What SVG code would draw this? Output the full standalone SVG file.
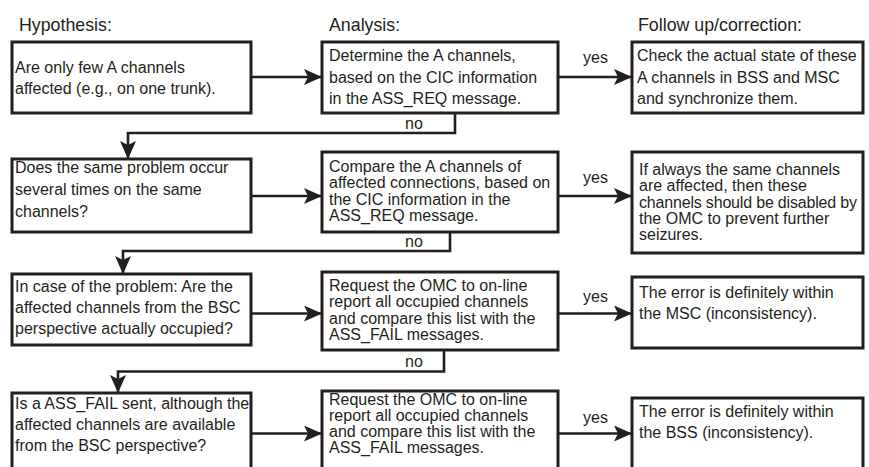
<svg xmlns="http://www.w3.org/2000/svg" width="869" height="467" viewBox="0 0 869 467">
<defs>
<style>
.bx{fill:#fff;stroke:#231f20;stroke-width:3}
.t{font-family:"Liberation Sans",Arial,sans-serif;font-size:16px;fill:#231f20}
.h{font-family:"Liberation Sans",Arial,sans-serif;font-size:17.8px;fill:#231f20}
.c{fill:none;stroke:#231f20;stroke-width:2.6;stroke-linejoin:miter}
.a{marker-end:url(#ah)}
</style>
<marker id="ah" markerUnits="userSpaceOnUse" viewBox="0 0 18 16" refX="17" refY="8" markerWidth="18" markerHeight="16" orient="auto">
<path d="M0,0 L18,8 L0,16 L4,8 Z" fill="#231f20"/>
</marker>
</defs>
<rect width="869" height="467" fill="#fff"/>
<g id="titles">
<text class="h" x="19" y="31">Hypothesis:</text>
<text class="h" x="329" y="31">Analysis:</text>
<text class="h" x="638" y="31">Follow up/correction:</text>
</g>
<g id="connectors">
<line class="c a" x1="251" y1="77" x2="321" y2="77"/>
<line class="c a" x1="558" y1="77" x2="631" y2="77"/>
<text class="t" x="583" y="63">yes</text>
<polyline class="c a" points="455,113 455,133 128,133 128,158"/>
<text class="t" x="405" y="129">no</text>
<line class="c a" x1="251" y1="196" x2="321" y2="196"/>
<line class="c a" x1="558" y1="196" x2="631" y2="196"/>
<text class="t" x="583" y="183">yes</text>
<polyline class="c a" points="450,232 450,251 123,251 123,273"/>
<text class="t" x="405" y="247">no</text>
<line class="c a" x1="251" y1="313.5" x2="321" y2="313.5"/>
<line class="c a" x1="558" y1="313.5" x2="631" y2="313.5"/>
<text class="t" x="583" y="302">yes</text>
<polyline class="c a" points="444,350 444,371.5 118,371.5 118,392"/>
<text class="t" x="405" y="367">no</text>
<line class="c a" x1="251" y1="433.5" x2="321" y2="433.5"/>
<line class="c a" x1="558" y1="433.5" x2="631" y2="433.5"/>
<text class="t" x="583" y="423">yes</text>
</g>
<g id="h1"><rect class="bx" x="12" y="42" width="239" height="71"/>
<text class="t" x="15" y="73">Are only few A channels</text>
<text class="t" x="15" y="94">affected (e.g., on one trunk).</text></g>
<g id="a1"><rect class="bx" x="322" y="42" width="236" height="71"/>
<text class="t" x="329" y="61">Determine the A channels,</text>
<text class="t" x="329" y="82.5">based on the CIC information</text>
<text class="t" x="329" y="104">in the ASS_REQ message.</text></g>
<g id="f1"><rect class="bx" x="632" y="42" width="231" height="71"/>
<text class="t" x="637" y="61">Check the actual state of these</text>
<text class="t" x="637" y="82.5">A channels in BSS and MSC</text>
<text class="t" x="637" y="104">and synchronize them.</text></g>
<g id="h2"><rect class="bx" x="12" y="159" width="239" height="73"/>
<text class="t" x="15" y="173">Does the same problem occur</text>
<text class="t" x="15" y="195">several times on the same</text>
<text class="t" x="15" y="217">channels?</text></g>
<g id="a2"><rect class="bx" x="322" y="152" width="236" height="80"/>
<text class="t" x="329" y="172">Compare the A channels of</text>
<text class="t" x="329" y="188.3">affected connections, based on</text>
<text class="t" x="329" y="204.6">the CIC information in the</text>
<text class="t" x="329" y="221">ASS_REQ message.</text></g>
<g id="f2"><rect class="bx" x="632" y="152" width="231" height="101"/>
<text class="t" x="639" y="175">If always the same channels</text>
<text class="t" x="639" y="191.3">are affected, then these</text>
<text class="t" x="639" y="207.6" textLength="218" lengthAdjust="spacing">channels should be disabled by</text>
<text class="t" x="639" y="224">the OMC to prevent further</text>
<text class="t" x="639" y="240">seizures.</text></g>
<g id="h3"><rect class="bx" x="12" y="274" width="239" height="71"/>
<text class="t" x="15" y="292">In case of the problem: Are the</text>
<text class="t" x="15" y="313">affected channels from the BSC</text>
<text class="t" x="15" y="334">perspective actually occupied?</text></g>
<g id="a3"><rect class="bx" x="322" y="272" width="236" height="78"/>
<text class="t" x="329" y="291">Request the OMC to on-line</text>
<text class="t" x="329" y="307.3">report all occupied channels</text>
<text class="t" x="329" y="323.6">and compare this list with the</text>
<text class="t" x="329" y="340">ASS_FAIL messages.</text></g>
<g id="f3"><rect class="bx" x="632" y="277" width="231" height="71"/>
<text class="t" x="639" y="298">The error is definitely within</text>
<text class="t" x="639" y="319">the MSC (inconsistency).</text></g>
<g id="h4"><rect class="bx" x="12" y="393" width="239" height="90"/>
<text class="t" x="15" y="408.5">Is a ASS_FAIL sent, although the</text>
<text class="t" x="15" y="429.5">affected channels are available</text>
<text class="t" x="15" y="450.5">from the BSC perspective?</text></g>
<g id="a4"><rect class="bx" x="322" y="391" width="236" height="90"/>
<text class="t" x="329" y="404.5">Request the OMC to on-line</text>
<text class="t" x="329" y="420.8">report all occupied channels</text>
<text class="t" x="329" y="437.1">and compare this list with the</text>
<text class="t" x="329" y="453.4">ASS_FAIL messages.</text></g>
<g id="f4"><rect class="bx" x="632" y="398" width="231" height="90"/>
<text class="t" x="639" y="417">The error is definitely within</text>
<text class="t" x="639" y="438">the BSS (inconsistency).</text></g>
</svg>
